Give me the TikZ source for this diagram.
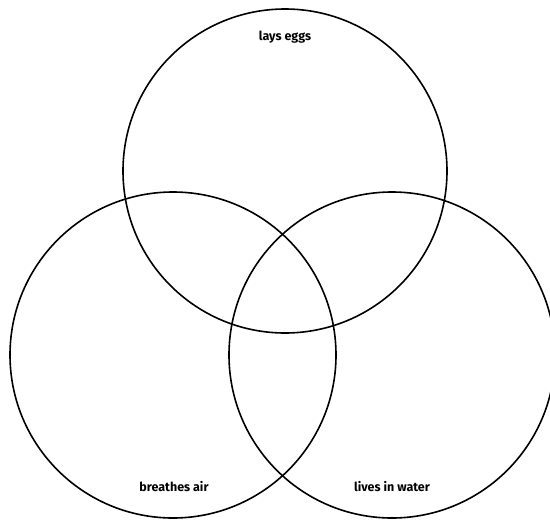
\documentclass[tikz,border=0pt]{standalone}
\usepackage{fontspec}
\setmainfont{Fira Sans}
\usepackage{tikz}
\usetikzlibrary{positioning}
\tikzset{
  ring/.style ={draw, circle, inner sep=0pt, line width=1.6pt, minimum size=#1},
  lbl/.style  ={font=\fontsize{12.5}{14}\selectfont\bfseries, inner sep=0pt},
}
\begin{document}
\begin{tikzpicture}[x=1pt,y=-1pt]
\useasboundingbox (0,0) rectangle (550,520);
\node[ring=324pt] (eggs)  at (285,171) {};
\node[ring=326pt] (air)   at (173,355) {};
\node[ring=326pt] (water) at (392,355) {};
\node[lbl] (eggslbl)  at (285,37)  {lays eggs};
\node[lbl] (airlbl)   at (174,487) {breathes air};
\node[lbl] (waterlbl) at (392,487) {lives in water};
\end{tikzpicture}
\end{document}
